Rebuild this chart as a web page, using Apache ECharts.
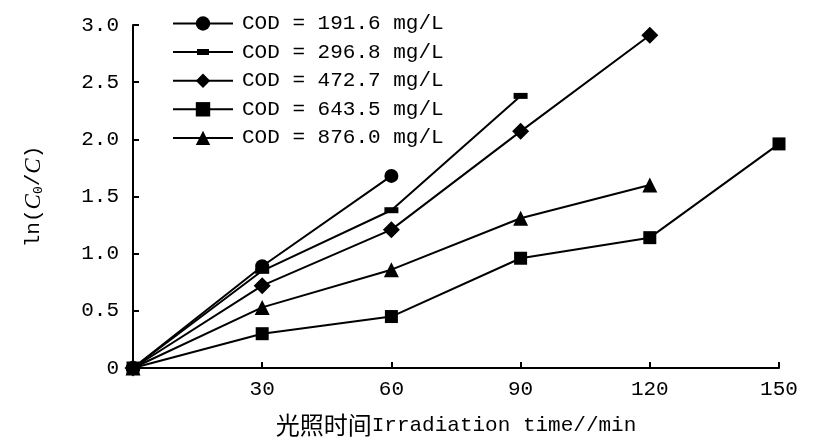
<!DOCTYPE html>
<html>
<head>
<meta charset="utf-8">
<script src="https://cdn.jsdelivr.net/npm/echarts@6/dist/echarts.min.js"></script>
<style>html,body{margin:0;padding:0;background:#fff}#c{width:825px;height:446px}</style>
</head>
<body>
<div id="c"></div>
<script>
const times = [0, 30, 60, 90, 120, 150];
const seriesNames = ['COD = 191.6 mg/L', 'COD = 296.8 mg/L', 'COD = 472.7 mg/L', 'COD = 643.5 mg/L', 'COD = 876.0 mg/L'];
const cod191 = [0, 0.89, 1.68];
const cod297 = [0, 0.85, 1.38, 2.38];
const cod473 = [0, 0.72, 1.21, 2.07, 2.91];
const cod644 = [0, 0.30, 0.45, 0.96, 1.14, 1.96];
const cod876 = [0, 0.53, 0.86, 1.31, 1.60];
const xTicks = [30, 60, 90, 120, 150];
const yTicks = [0, 0.5, 1.0, 1.5, 2.0, 2.5, 3.0];

const FONT = '"Liberation Mono", "Noto Sans CJK SC", monospace';
const values = [cod191, cod297, cod473, cod644, cod876];
const symbols = ['circle', 'path://M0,0L14,0L14,6L0,6Z', 'diamond', 'rect', 'triangle'];
const sizes = [14, [14, 6], 17, 13, 15];
const dashLegendIcon = 'path://M0,8L60,8L60,10L0,10Z M24,6L36,6L36,12L24,12Z';

const series = values.map((arr, i) => ({
  name: seriesNames[i],
  type: 'line',
  data: arr.map((v, j) => ({ value: [times[j], v], symbolKeepAspect: false })),
  symbol: symbols[i],
  symbolSize: sizes[i],
  symbolKeepAspect: true,
  showSymbol: true,
  lineStyle: { color: '#000', width: 2 },
  itemStyle: { color: '#000', borderWidth: 0 },
  z: 10 - i
}));

const legendData = seriesNames.map((n, i) => (i === 1 ? { name: n, icon: dashLegendIcon } : n));

const chart = echarts.init(document.getElementById('c'), null, { renderer: 'canvas' });
chart.setOption({
  animation: false,
  backgroundColor: '#fff',
  grid: { left: 133, right: 46, top: 25, bottom: 78, containLabel: false },
  legend: {
    orient: 'vertical',
    left: 167,
    top: 8,
    itemWidth: 60,
    itemHeight: 18,
    itemGap: 7.6,
    data: legendData,
    symbolKeepAspect: true,
    textStyle: { fontFamily: FONT, fontSize: 21, color: '#000', padding: [0, 0, 0, 4] },
    inactiveColor: '#000'
  },
  xAxis: {
    type: 'value',
    min: 0, max: 150, interval: 30,
    name: '{c|光照时间}{t|Irradiation time//min}',
    nameLocation: 'middle',
    nameGap: 45,
    nameTextStyle: {
      rich: {
        c: { fontFamily: '"Noto Sans CJK SC"', fontSize: 24, color: '#000' },
        t: { fontFamily: FONT, fontSize: 21, color: '#000' }
      }
    },
    axisLine: { show: true, lineStyle: { color: '#000', width: 2 } },
    axisTick: { show: true, inside: true, length: 6, lineStyle: { color: '#000', width: 2 } },
    axisLabel: {
      fontFamily: FONT, fontSize: 21, color: '#000', margin: 11,
      formatter: v => (xTicks.indexOf(v) >= 0 ? String(v) : '')
    },
    splitLine: { show: false }
  },
  yAxis: {
    type: 'value',
    min: 0, max: 3, interval: 0.5,
    name: '{a|ln(}{i|C}{s|0}{a|/}{i|C}{a|)}',
    nameLocation: 'middle',
    nameGap: 88,
    nameRotate: 90,
    nameTextStyle: {
      rich: {
        a: { fontFamily: FONT, fontSize: 21, color: '#000' },
        i: { fontFamily: '"Liberation Serif"', fontStyle: 'italic', fontSize: 23, color: '#000' },
        s: { fontFamily: FONT, fontSize: 13, color: '#000', verticalAlign: 'bottom', padding: [8, 0, 0, 0] }
      }
    },
    axisLine: { show: true, lineStyle: { color: '#000', width: 2 } },
    axisTick: { show: true, inside: true, length: 6, lineStyle: { color: '#000', width: 2 } },
    axisLabel: {
      fontFamily: FONT, fontSize: 21, color: '#000', margin: 14,
      formatter: v => (v === 0 ? '0' : (yTicks.indexOf(v) >= 0 ? v.toFixed(1) : ''))
    },
    splitLine: { show: false }
  },
  series: series
});
</script>
</body>
</html>
